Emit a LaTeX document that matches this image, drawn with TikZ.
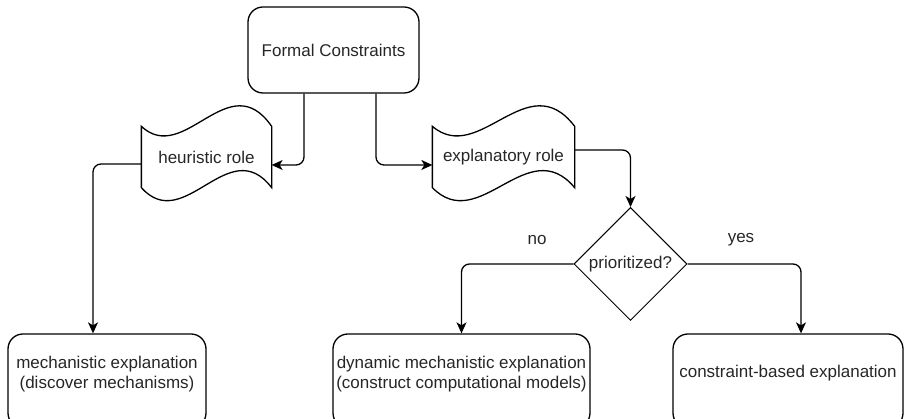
\documentclass[tikz,border=0pt]{standalone}
\usepackage{fontspec}
\setmainfont{Liberation Sans}
\usetikzlibrary{shapes.geometric}
\usetikzlibrary{arrows.meta}

% outline of a wavy tape around a node (#2 = a third of its width)
\newcommand{\tapeoutline}[2]{%
  \draw (#1.north west) .. controls +(#2,-40) and +(-#2,62) .. (#1.north east)
    -- (#1.south east) .. controls +(-#2,56) and +(#2,-48) .. (#1.south west) -- cycle;}

\begin{document}
\begin{tikzpicture}[x=1pt,y=1pt,line width=1.3pt]
\tikzstyle{every node}=[font=\fontsize{17}{20}\selectfont, text=black!85]
\tikzstyle{roundbox}=[draw, rounded corners=15pt, inner sep=0pt]
\tikzstyle{wave}=[inner sep=0pt, minimum height=60pt]
\tikzstyle{decision}=[diamond, draw, aspect=1, inner sep=0pt, minimum size=113pt, line width=1pt]
\tikzstyle{flow}=[-{Stealth[length=11pt,width=10pt,inset=3pt]}, rounded corners=8pt]
\useasboundingbox (0,0) rectangle (906,419);

\node[roundbox, minimum width=171pt, minimum height=86pt] (FC) at (333.5,369) {Formal Constraints};
\node[wave, minimum width=129pt] (heu) at (206.5,262) {heuristic role};
\node[wave, minimum width=141pt] (exp) at (503.5,262) {explanatory role};
\tapeoutline{heu}{43}
\tapeoutline{exp}{47}
\node[decision] (dia) at (630.5,155) {prioritized?};

\node[roundbox, minimum width=198pt, minimum height=94pt] (mech) at (107,38) {};
\node[roundbox, minimum width=257pt, minimum height=94pt] (dyn) at (461.5,38) {};
\node[roundbox, minimum width=230pt, minimum height=94pt] (con) at (788,38) {};
\node[align=center] (mechtxt) at ([yshift=7pt]mech.center) {mechanistic explanation\\(discover mechanisms)};
\node[align=center] (dyntxt) at ([yshift=7pt]dyn.center) {dynamic mechanistic explanation\\(construct computational models)};
\node (contxt) at ([yshift=8pt]con.center) {constraint-based explanation};

\node (no) at (537,179) {no};
\node (yes) at (741,179) {yes};

\draw[flow] ([xshift=-29.5pt]FC.south) |- ([yshift=-8pt]heu.east);
\draw[flow] ([xshift=42.5pt]FC.south) |- ([yshift=-8pt]exp.west);
\draw[flow] ([yshift=-7pt]heu.west) -| ([xshift=-14pt]mech.north);
\draw[flow] ([yshift=7pt]exp.east) -| (dia.north);
\draw[flow] (dia.west) -| (dyn.north);
\draw[flow] (dia.east) -| ([xshift=13pt]con.north);
\end{tikzpicture}
\end{document}
